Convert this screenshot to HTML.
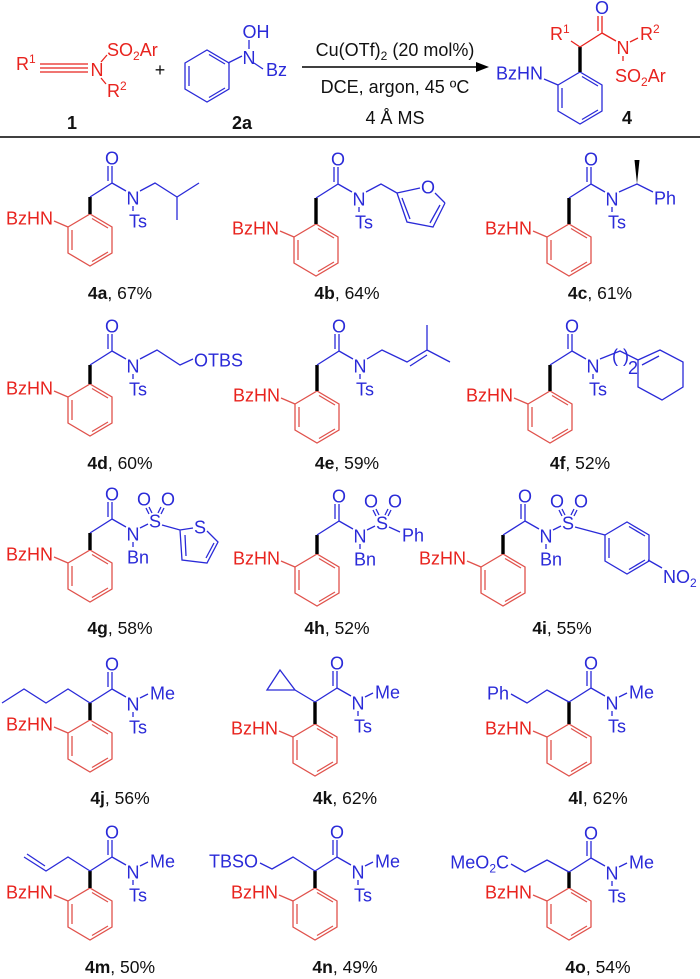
<!DOCTYPE html>
<html><head><meta charset="utf-8"><style>
html,body{margin:0;padding:0;background:#fff}
svg{display:block}
.b{stroke:#2a2ad8;fill:none;stroke-width:1.3}
.r{stroke:#e0524c;fill:none;stroke-width:1.3}
.rd{stroke:#e8231e;fill:none;stroke-width:1.3}
.k{stroke:#000;stroke-width:3.4}
text{font-family:"Liberation Sans",Arial,sans-serif;font-size:18px}
.tb{fill:#2a2ad8}.tr{fill:#e8231e}.tk{fill:#111}
.lb{font-size:17.5px;fill:#111}
</style></head><body>
<svg width="700" height="979" viewBox="0 0 700 979" xmlns="http://www.w3.org/2000/svg">
<defs>
<g id="ring"><polygon points="0,0 22,-13 44,0 44,26 22,39 0,26"/><path d="M4,3 L4,23 M24,-8.5 L40,1 M40,25 L24,34.5"/></g>
<g id="nh"><path d="M-14,-6 L0,0"/></g>
<g id="am"><path d="M0,0 L22,-14 L22,-31 M18,-16 L18,-31 M22,-14 L36,-6 M43,9 L43,14"/></g>
</defs>

<!-- HEADER -->
<text class="tr" x="16" y="70">R<tspan font-size="12" dy="-7">1</tspan></text>
<path class="rd" d="M40,64 L88,64 M40,68 L88,68 M40,72 L88,72 M101,62 L107,55 M101,78 L106,84"/>
<text class="tr" x="97" y="76" text-anchor="middle">N</text>
<text class="tr" x="107" y="56">SO<tspan font-size="12" dy="4">2</tspan><tspan dy="-4">Ar</tspan></text>
<text class="tr" x="107" y="97">R<tspan font-size="12" dy="-7">2</tspan></text>
<text class="tk" x="160" y="76" text-anchor="middle">+</text>
<use href="#ring" x="185" y="63" class="b"/>
<path class="b" d="M228,63 L242,56 M249,49 L249,40 M254,63 L263,69"/>
<text class="tb" x="249" y="64" text-anchor="middle">N</text>
<text class="tb" x="256" y="38" text-anchor="middle">OH</text>
<text class="tb" x="266" y="76">Bz</text>
<text class="tk" x="72" y="129" text-anchor="middle" font-weight="bold">1</text>
<text class="tk" x="242" y="129" text-anchor="middle" font-weight="bold">2a</text>
<line x1="302" y1="67" x2="480" y2="67" stroke="#000" stroke-width="1.5"/>
<polygon points="476,62 489,67 476,72" fill="#000"/>
<text class="tk" x="395" y="56" text-anchor="middle" font-size="17">Cu(OTf)<tspan font-size="12" dy="4">2</tspan><tspan dy="-4"> (20 mol%)</tspan></text>
<text class="tk" x="395" y="93" text-anchor="middle" font-size="17">DCE, argon, 45 ºC</text>
<text class="tk" x="395" y="124" text-anchor="middle" font-size="17">4 Å MS</text>
<!-- product 4 -->
<use href="#ring" x="558" y="85" class="b"/>
<use href="#nh" x="558" y="85" class="b"/>
<text class="tb" x="543" y="79.5" text-anchor="end">BzHN</text>
<line class="k" x1="580" y1="72" x2="580" y2="47"/>
<use href="#am" x="580" y="47" class="rd"/>
<text class="tb" x="602" y="14" text-anchor="middle">O</text>
<text class="tr" x="623" y="54" text-anchor="middle">N</text>
<path class="rd" d="M580,47 L571,41 M630,42 L638,38"/>
<text class="tr" x="550" y="40">R<tspan font-size="12" dy="-7">1</tspan></text>
<text class="tr" x="640" y="40">R<tspan font-size="12" dy="-7">2</tspan></text>
<text class="tr" x="615" y="82">SO<tspan font-size="12" dy="4">2</tspan><tspan dy="-4">Ar</tspan></text>
<text class="tk" x="627" y="124" text-anchor="middle" font-weight="bold">4</text>
<line x1="0" y1="137" x2="700" y2="137" stroke="#000" stroke-width="1.5"/>

<!-- ===== Row 1 ===== -->
<g transform="translate(68,227)"><use href="#ring" class="r"/><use href="#nh" class="r"/><text class="tr" x="-15" y="-2.5" text-anchor="end">BzHN</text></g>
<line class="k" x1="90" y1="214" x2="90" y2="197"/>
<g transform="translate(90,197)"><use href="#am" class="b"/>
<text class="tb" x="22" y="-32.5" text-anchor="middle">O</text><text class="tb" x="43" y="7.5" text-anchor="middle">N</text><text class="tb" x="48" y="30.5" text-anchor="middle">Ts</text>
<path class="b" d="M50,-6 L65,-14 L87,0 L109,-14 M87,0 L87,23"/></g>
<text class="lb" x="120" y="299" text-anchor="middle"><tspan font-weight="bold">4a</tspan>, 67%</text>

<g transform="translate(294,237)"><use href="#ring" class="r"/><use href="#nh" class="r"/><text class="tr" x="-15" y="-2.5" text-anchor="end">BzHN</text></g>
<line class="k" x1="316" y1="224" x2="316" y2="198"/>
<g transform="translate(316,198)"><use href="#am" class="b"/>
<text class="tb" x="22" y="-32.5" text-anchor="middle">O</text><text class="tb" x="43" y="7.5" text-anchor="middle">N</text><text class="tb" x="48" y="30.5" text-anchor="middle">Ts</text>
<path class="b" d="M50,-6 L65,-14 L81,-5 L91,24 L117,29 L129,5 M81,-5 L104,-10 M119,-5 L129,5 M86,0 L94,21 M114,25 L124,7"/>
<text class="tb" x="112" y="-4.5" text-anchor="middle">O</text></g>
<text class="lb" x="347" y="299" text-anchor="middle"><tspan font-weight="bold">4b</tspan>, 64%</text>

<g transform="translate(547,237)"><use href="#ring" class="r"/><use href="#nh" class="r"/><text class="tr" x="-15" y="-2.5" text-anchor="end">BzHN</text></g>
<line class="k" x1="569" y1="224" x2="569" y2="198"/>
<g transform="translate(569,198)"><use href="#am" class="b"/>
<text class="tb" x="22" y="-32.5" text-anchor="middle">O</text><text class="tb" x="43" y="7.5" text-anchor="middle">N</text><text class="tb" x="48" y="30.5" text-anchor="middle">Ts</text>
<path class="b" d="M50,-6 L68,-14 L84,-6"/><polygon points="68,-14 65.5,-38 70.5,-38" fill="#000"/>
<text class="tb" x="96" y="6.5" text-anchor="middle">Ph</text></g>
<text class="lb" x="600" y="299" text-anchor="middle"><tspan font-weight="bold">4c</tspan>, 61%</text>

<!-- ===== Row 2 ===== -->
<g transform="translate(68,397)"><use href="#ring" class="r"/><use href="#nh" class="r"/><text class="tr" x="-15" y="-2.5" text-anchor="end">BzHN</text></g>
<line class="k" x1="90" y1="384" x2="90" y2="365"/>
<g transform="translate(90,365)"><use href="#am" class="b"/>
<text class="tb" x="22" y="-32.5" text-anchor="middle">O</text><text class="tb" x="43" y="7.5" text-anchor="middle">N</text><text class="tb" x="48" y="30.5" text-anchor="middle">Ts</text>
<path class="b" d="M50,-6 L67,-15 L90,0 L103,-6"/><text class="tb" x="104" y="1.5">OTBS</text></g>
<text class="lb" x="120" y="469" text-anchor="middle"><tspan font-weight="bold">4d</tspan>, 60%</text>

<g transform="translate(295,404)"><use href="#ring" class="r"/><use href="#nh" class="r"/><text class="tr" x="-15" y="-2.5" text-anchor="end">BzHN</text></g>
<line class="k" x1="317" y1="391" x2="317" y2="365"/>
<g transform="translate(317,365)"><use href="#am" class="b"/>
<text class="tb" x="22" y="-32.5" text-anchor="middle">O</text><text class="tb" x="43" y="7.5" text-anchor="middle">N</text><text class="tb" x="48" y="30.5" text-anchor="middle">Ts</text>
<path class="b" d="M50,-6 L65,-15 L90,-3 L110,-15 L110,-40 M110,-15 L133,-3 M93,1 L110,-10"/></g>
<text class="lb" x="347" y="469" text-anchor="middle"><tspan font-weight="bold">4e</tspan>, 59%</text>

<g transform="translate(528,404)"><use href="#ring" class="r"/><use href="#nh" class="r"/><text class="tr" x="-15" y="-2.5" text-anchor="end">BzHN</text></g>
<line class="k" x1="550" y1="391" x2="550" y2="365"/>
<g transform="translate(550,365)"><use href="#am" class="b"/>
<text class="tb" x="22" y="-32.5" text-anchor="middle">O</text><text class="tb" x="43" y="7.5" text-anchor="middle">N</text><text class="tb" x="48" y="30.5" text-anchor="middle">Ts</text>
<path class="b" d="M50,-6 L70,-14 L88,-5 M88,-5 L110,-15 L133,-3 L133,22 L112,35 L88,22 Z M92,0 L109,-9"/>
<text class="tb" x="62" y="-3" font-size="16">(</text><text class="tb" x="73" y="-3" font-size="16">)</text><text class="tb" x="78" y="9" font-size="12">2</text></g>
<text class="lb" x="580" y="469" text-anchor="middle"><tspan font-weight="bold">4f</tspan>, 52%</text>

<!-- ===== Row 3 ===== -->
<g transform="translate(68,563)"><use href="#ring" class="r"/><use href="#nh" class="r"/><text class="tr" x="-15" y="-2.5" text-anchor="end">BzHN</text></g>
<line class="k" x1="90" y1="550" x2="90" y2="533"/>
<g transform="translate(90,533)"><use href="#am" class="b"/>
<text class="tb" x="22" y="-32.5" text-anchor="middle">O</text><text class="tb" x="43" y="7.5" text-anchor="middle">N</text><text class="tb" x="48" y="30.5" text-anchor="middle">Bn</text>
<text class="tb" x="65" y="-5.5" text-anchor="middle">S</text><text class="tb" x="54" y="-27.5" text-anchor="middle">O</text><text class="tb" x="78" y="-27.5" text-anchor="middle">O</text>
<path class="b" d="M50,-5 L58,-9 M59,-19 L56,-25 M62,-20 L59,-26 M68,-20 L71,-26 M71,-19 L74,-25 M72,-8 L90,-3 L103,-5 M117,-2 L128,9 L117,30 L92,27 L90,-3 M95,2 L96,23 M116,25 L124,10"/>
<text class="tb" x="110" y="0.5" text-anchor="middle">S</text></g>
<text class="lb" x="120" y="634" text-anchor="middle"><tspan font-weight="bold">4g</tspan>, 58%</text>

<g transform="translate(295,567)"><use href="#ring" class="r"/><use href="#nh" class="r"/><text class="tr" x="-15" y="-2.5" text-anchor="end">BzHN</text></g>
<line class="k" x1="317" y1="554" x2="317" y2="535"/>
<g transform="translate(317,535)"><use href="#am" class="b"/>
<text class="tb" x="22" y="-32.5" text-anchor="middle">O</text><text class="tb" x="43" y="7.5" text-anchor="middle">N</text><text class="tb" x="48" y="30.5" text-anchor="middle">Bn</text>
<text class="tb" x="65" y="-5.5" text-anchor="middle">S</text><text class="tb" x="54" y="-27.5" text-anchor="middle">O</text><text class="tb" x="78" y="-27.5" text-anchor="middle">O</text>
<path class="b" d="M50,-5 L58,-9 M59,-19 L56,-25 M62,-20 L59,-26 M68,-20 L71,-26 M71,-19 L74,-25 M72,-8 L83,-3"/>
<text class="tb" x="96" y="6.5" text-anchor="middle">Ph</text></g>
<text class="lb" x="337" y="634" text-anchor="middle"><tspan font-weight="bold">4h</tspan>, 52%</text>

<g transform="translate(481,567)"><use href="#ring" class="r"/><use href="#nh" class="r"/><text class="tr" x="-15" y="-2.5" text-anchor="end">BzHN</text></g>
<line class="k" x1="503" y1="554" x2="503" y2="535"/>
<g transform="translate(503,535)"><use href="#am" class="b"/>
<text class="tb" x="22" y="-32.5" text-anchor="middle">O</text><text class="tb" x="43" y="7.5" text-anchor="middle">N</text><text class="tb" x="48" y="30.5" text-anchor="middle">Bn</text>
<text class="tb" x="65" y="-5.5" text-anchor="middle">S</text><text class="tb" x="54" y="-27.5" text-anchor="middle">O</text><text class="tb" x="78" y="-27.5" text-anchor="middle">O</text>
<path class="b" d="M50,-5 L58,-9 M59,-19 L56,-25 M62,-20 L59,-26 M68,-20 L71,-26 M71,-19 L74,-25 M72,-8 L102,0 M145,25 L159,33"/>
<use href="#ring" x="102" y="0" class="b"/>
<text class="tb" x="160" y="48">NO<tspan font-size="12" dy="4">2</tspan></text></g>
<text class="lb" x="562" y="634" text-anchor="middle"><tspan font-weight="bold">4i</tspan>, 55%</text>

<!-- ===== Row 4 ===== -->
<g transform="translate(68,733)"><use href="#ring" class="r"/><use href="#nh" class="r"/><text class="tr" x="-15" y="-2.5" text-anchor="end">BzHN</text></g>
<line class="k" x1="90" y1="720" x2="90" y2="703"/>
<g transform="translate(90,703)"><use href="#am" class="b"/>
<text class="tb" x="22" y="-32.5" text-anchor="middle">O</text><text class="tb" x="43" y="7.5" text-anchor="middle">N</text><text class="tb" x="48" y="30.5" text-anchor="middle">Ts</text>
<path class="b" d="M50,-5 L58,-9 M0,0 L-22,-14 L-44,0 L-66,-14 L-88,0"/><text class="tb" x="60" y="-3.5">Me</text></g>
<text class="lb" x="120" y="804" text-anchor="middle"><tspan font-weight="bold">4j</tspan>, 56%</text>

<g transform="translate(293,737)"><use href="#ring" class="r"/><use href="#nh" class="r"/><text class="tr" x="-15" y="-2.5" text-anchor="end">BzHN</text></g>
<line class="k" x1="315" y1="724" x2="315" y2="702"/>
<g transform="translate(315,702)"><use href="#am" class="b"/>
<text class="tb" x="22" y="-32.5" text-anchor="middle">O</text><text class="tb" x="43" y="7.5" text-anchor="middle">N</text><text class="tb" x="48" y="30.5" text-anchor="middle">Ts</text>
<path class="b" d="M50,-5 L58,-9 M0,0 L-20,-12 M-20,-12 L-48,-12 L-35,-32 Z"/><text class="tb" x="60" y="-3.5">Me</text></g>
<text class="lb" x="345" y="804" text-anchor="middle"><tspan font-weight="bold">4k</tspan>, 62%</text>

<g transform="translate(547,737)"><use href="#ring" class="r"/><use href="#nh" class="r"/><text class="tr" x="-15" y="-2.5" text-anchor="end">BzHN</text></g>
<line class="k" x1="569" y1="724" x2="569" y2="702"/>
<g transform="translate(569,702)"><use href="#am" class="b"/>
<text class="tb" x="22" y="-32.5" text-anchor="middle">O</text><text class="tb" x="43" y="7.5" text-anchor="middle">N</text><text class="tb" x="48" y="30.5" text-anchor="middle">Ts</text>
<path class="b" d="M50,-5 L58,-9 M0,0 L-22,-12 L-42,1 L-58,-8"/><text class="tb" x="60" y="-3.5">Me</text>
<text class="tb" x="-60" y="-2.5" text-anchor="end">Ph</text></g>
<text class="lb" x="598" y="804" text-anchor="middle"><tspan font-weight="bold">4l</tspan>, 62%</text>

<!-- ===== Row 5 ===== -->
<g transform="translate(68,901)"><use href="#ring" class="r"/><use href="#nh" class="r"/><text class="tr" x="-15" y="-2.5" text-anchor="end">BzHN</text></g>
<line class="k" x1="90" y1="888" x2="90" y2="871"/>
<g transform="translate(90,871)"><use href="#am" class="b"/>
<text class="tb" x="22" y="-32.5" text-anchor="middle">O</text><text class="tb" x="43" y="7.5" text-anchor="middle">N</text><text class="tb" x="48" y="30.5" text-anchor="middle">Ts</text>
<path class="b" d="M50,-5 L58,-9 M0,0 L-22,-14 L-44,0 L-66,-14 M-45,-5 L-63,-17"/><text class="tb" x="60" y="-3.5">Me</text></g>
<text class="lb" x="120" y="973" text-anchor="middle"><tspan font-weight="bold">4m</tspan>, 50%</text>

<g transform="translate(293,901)"><use href="#ring" class="r"/><use href="#nh" class="r"/><text class="tr" x="-15" y="-2.5" text-anchor="end">BzHN</text></g>
<line class="k" x1="315" y1="888" x2="315" y2="871"/>
<g transform="translate(315,871)"><use href="#am" class="b"/>
<text class="tb" x="22" y="-32.5" text-anchor="middle">O</text><text class="tb" x="43" y="7.5" text-anchor="middle">N</text><text class="tb" x="48" y="30.5" text-anchor="middle">Ts</text>
<path class="b" d="M50,-5 L58,-9 M0,0 L-22,-14 L-43,-2 L-55,-8"/><text class="tb" x="60" y="-3.5">Me</text>
<text class="tb" x="-57" y="-3.5" text-anchor="end">TBSO</text></g>
<text class="lb" x="345" y="973" text-anchor="middle"><tspan font-weight="bold">4n</tspan>, 49%</text>

<g transform="translate(547,901)"><use href="#ring" class="r"/><use href="#nh" class="r"/><text class="tr" x="-15" y="-2.5" text-anchor="end">BzHN</text></g>
<line class="k" x1="569" y1="888" x2="569" y2="872"/>
<g transform="translate(569,872)"><use href="#am" class="b"/>
<text class="tb" x="22" y="-32.5" text-anchor="middle">O</text><text class="tb" x="43" y="7.5" text-anchor="middle">N</text><text class="tb" x="48" y="30.5" text-anchor="middle">Ts</text>
<path class="b" d="M50,-5 L58,-9 M0,0 L-22,-12 L-44,0 L-58,-8"/><text class="tb" x="60" y="-3.5">Me</text>
<text class="tb" x="-60" y="-3.5" text-anchor="end">MeO<tspan font-size="12" dy="4">2</tspan><tspan dy="-4">C</tspan></text></g>
<text class="lb" x="598" y="973" text-anchor="middle"><tspan font-weight="bold">4o</tspan>, 54%</text>
</svg>
</body></html>
